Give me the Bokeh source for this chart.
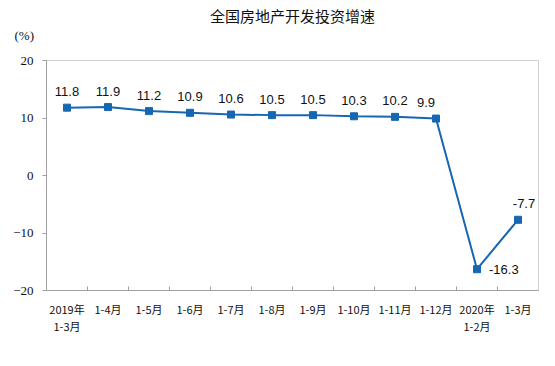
from bokeh.plotting import figure
from bokeh.models import ColumnDataSource, LabelSet, Title, FixedTicker, Range1d
from bokeh.core.properties import value
from bokeh.embed import file_html
from bokeh.resources import INLINE

categories = ["2019年\n1-3月", "1-4月", "1-5月", "1-6月", "1-7月", "1-8月",
              "1-9月", "1-10月", "1-11月", "1-12月", "2020年\n1-2月", "1-3月"]
values = [11.8, 11.9, 11.2, 10.9, 10.6, 10.5, 10.5, 10.3, 10.2, 9.9, -16.3, -7.7]
value_labels = ["11.8", "11.9", "11.2", "10.9", "10.6", "10.5", "10.5", "10.3", "10.2", "9.9", "-16.3", "-7.7"]
y_ticks = [-20, -10, 0, 10, 20]
title_text = "全国房地产开发投资增速"
unit_text = "(%)"

idx = list(range(1, len(categories) + 1))

# label placement (styling)
lx = [0] * len(values)
ly = [16] * len(values)
lalign = ["center"] * len(values)
lx[9] = -10
lx[10] = 12; ly[10] = 0; lalign[10] = "left"
lx[11] = 6; ly[11] = 16

src = ColumnDataSource(dict(x=idx, y=values, t=value_labels, xo=lx, yo=ly, al=lalign))

p = figure(width=547, height=358, output_backend="svg", toolbar_location=None,
           x_range=Range1d(0.5, len(categories) + 0.5), y_range=Range1d(-20, 20),
           min_border_left=46, min_border_right=9, min_border_top=60, min_border_bottom=68)
p.background_fill_color = "white"
p.border_fill_color = "white"
p.outline_line_color = "#d0d0d0"
p.xgrid.visible = False
p.ygrid.visible = False

blue = "#1766b2"
p.line("x", "y", source=src, line_color=blue, line_width=2)
p.scatter("x", "y", source=src, marker="square", size=7, fill_color=blue, line_color=blue)

p.add_layout(LabelSet(x="x", y="y", text="t", source=src, x_offset="xo", y_offset="yo",
                      text_align="al", text_baseline="middle", text_font=value("Liberation Sans"),
                      text_font_size="13px", text_color="#111111"))

xa = p.xaxis[0]
xa.ticker = FixedTicker(ticks=idx, minor_ticks=[i + 0.5 for i in range(1, len(categories))])
xa.major_label_overrides = {i: c for i, c in zip(idx, categories)}
xa.major_tick_line_color = None
xa.minor_tick_in = 4
xa.minor_tick_out = 0
xa.minor_tick_line_color = "#a0a0a0"
xa.axis_line_color = "#a0a0a0"
xa.major_label_text_font = "Noto Sans CJK SC"
xa.major_label_text_font_size = "11px"
xa.major_label_text_color = "#111111"
xa.major_label_text_line_height = 1.1
xa.major_label_standoff = 4

ya = p.yaxis[0]
ya.ticker = FixedTicker(ticks=y_ticks)
ya.minor_tick_line_color = None
ya.major_tick_in = 0
ya.major_tick_out = 4
ya.major_tick_line_color = "#a0a0a0"
ya.axis_line_color = "#a0a0a0"
ya.major_label_text_font = "Liberation Serif"
ya.major_label_text_font_size = "13px"
ya.major_label_text_color = "#111111"
ya.major_label_standoff = 9

# spacer between frame and unit label
p.add_layout(Title(text=" ", text_font_size="14px", standoff=0), "above")
p.add_layout(Title(text=unit_text, align="left", offset=-32, text_font="Liberation Serif",
                   text_font_size="13px", text_font_style="normal", text_color="#111111",
                   standoff=0, text_line_height=0.5), "above")
p.title.text = title_text
p.title.align = "center"
p.title.text_font = "Noto Sans CJK SC"
p.title.text_font_size = "15px"
p.title.text_font_style = "normal"
p.title.text_color = "#111111"
p.title.standoff = 0
p.title.text_line_height = 0.6

open("out.html", "w").write(file_html(p, INLINE))
